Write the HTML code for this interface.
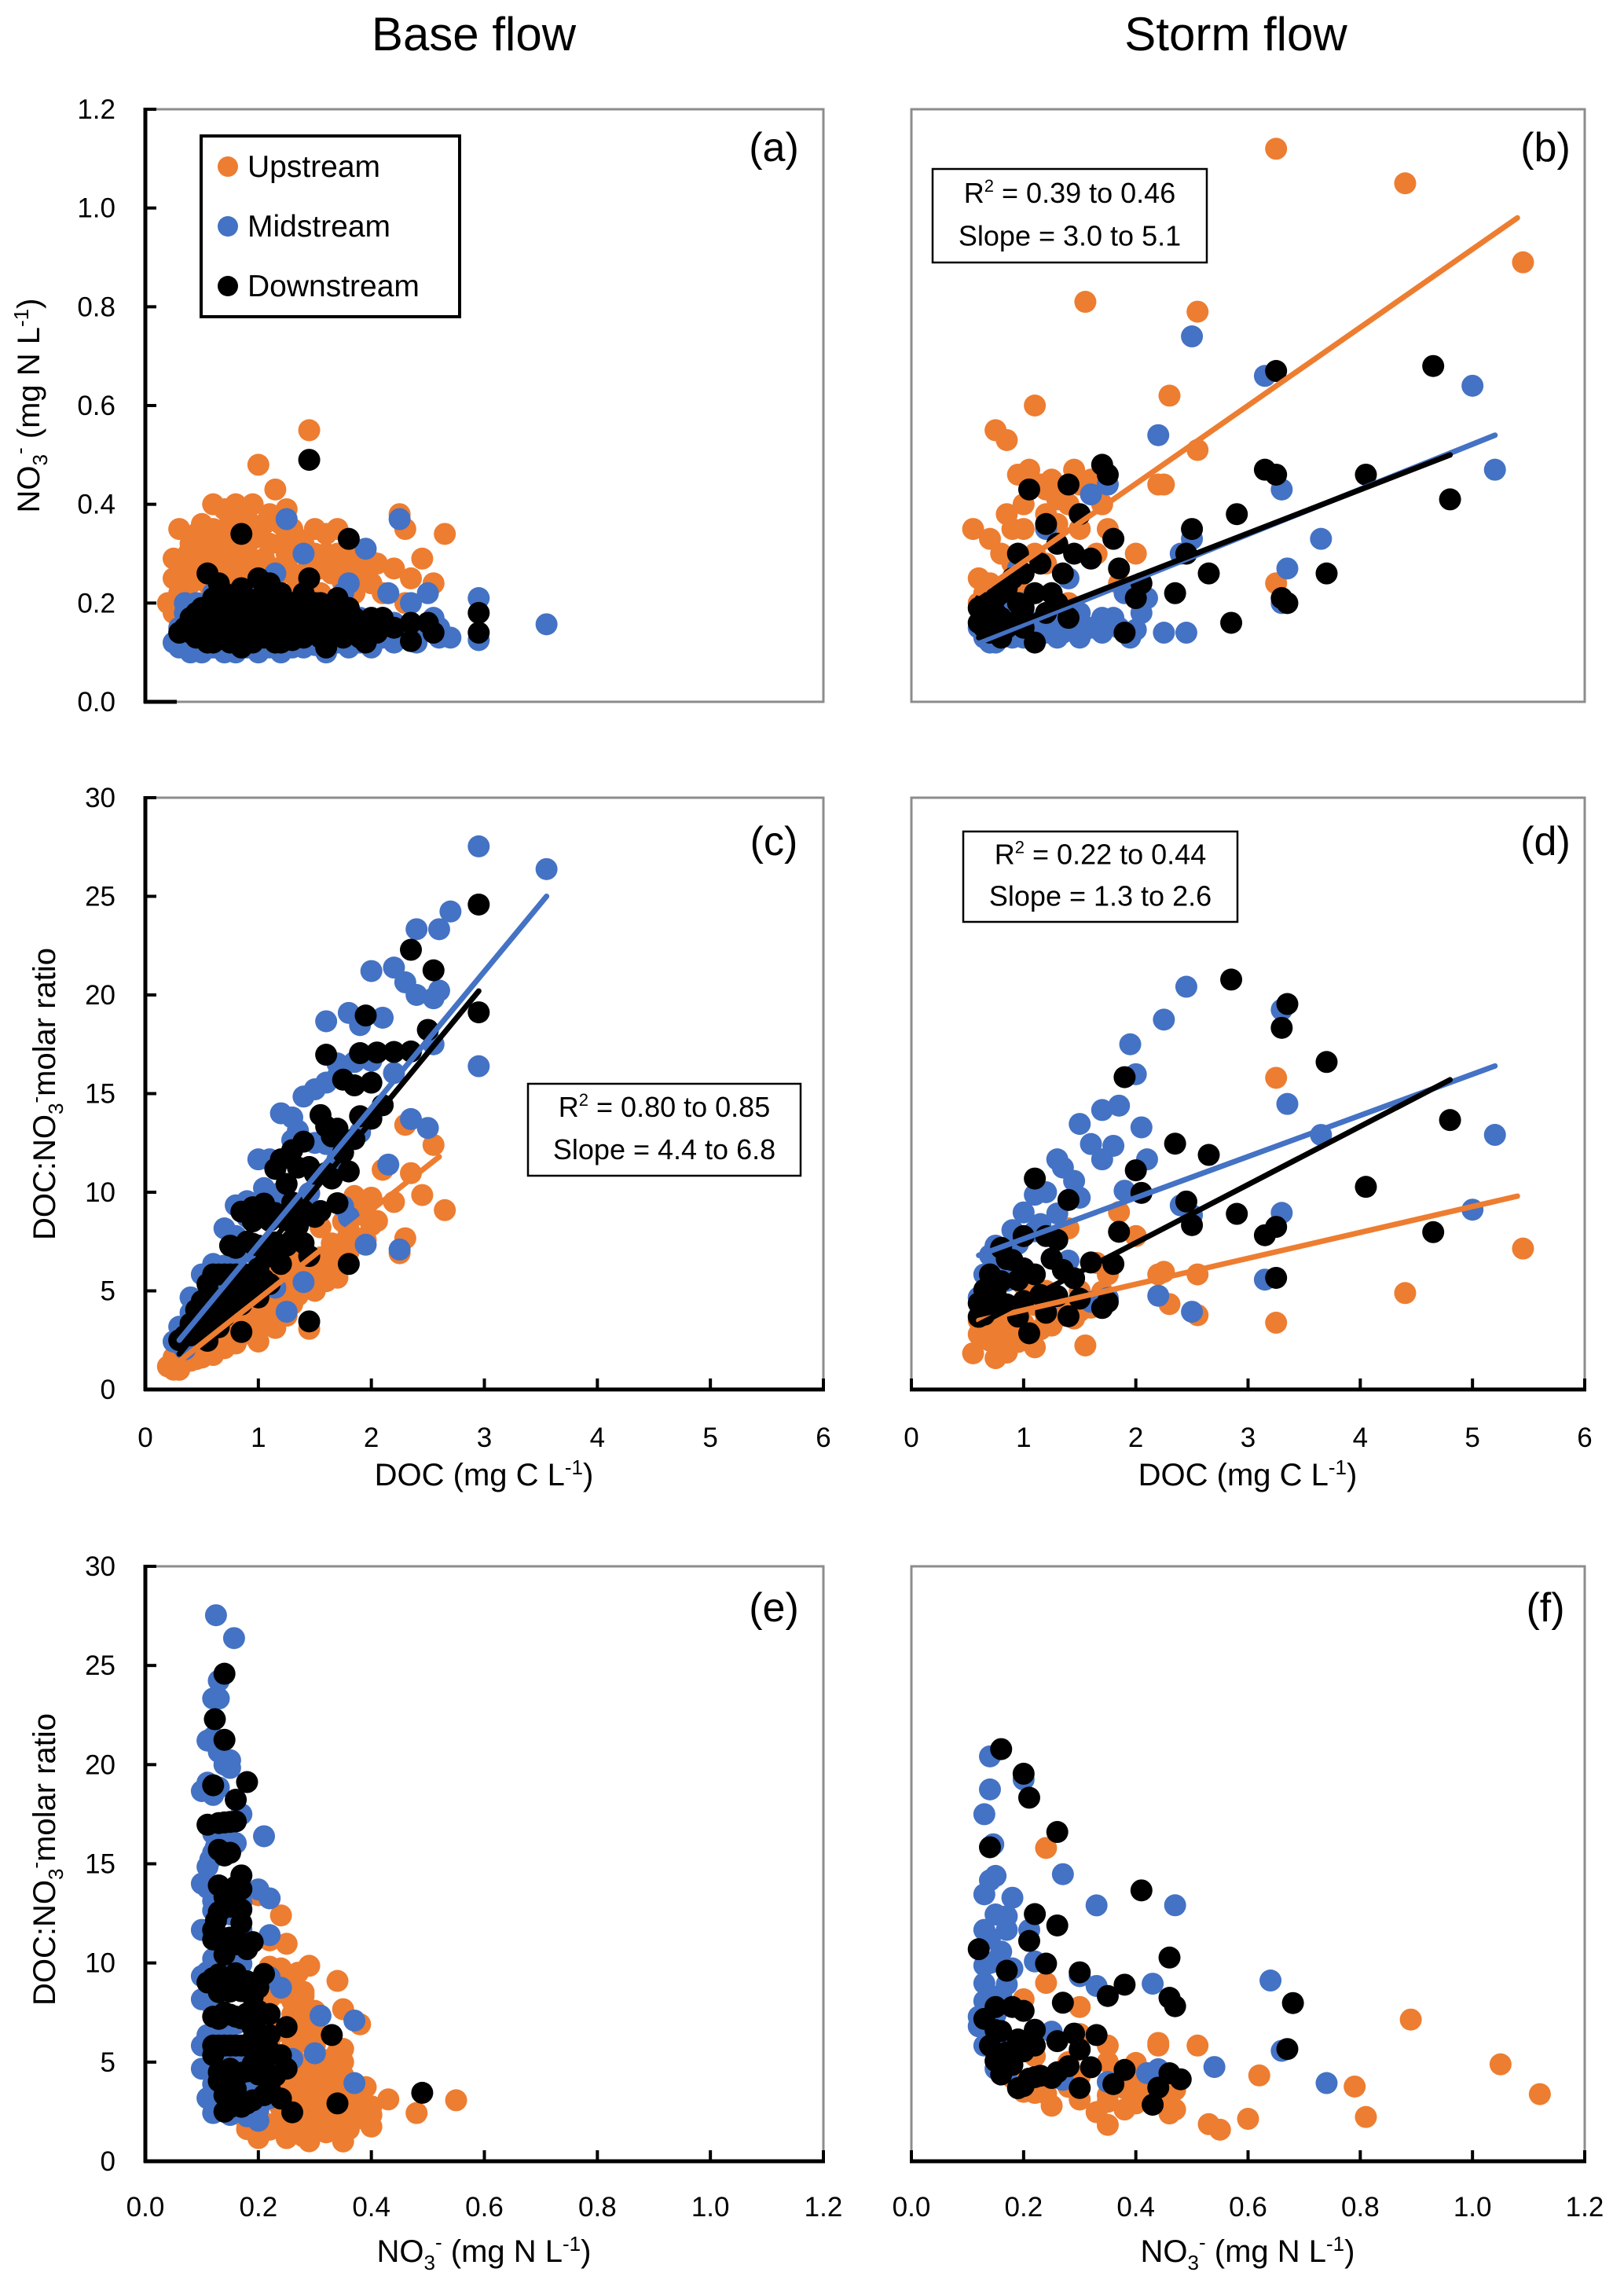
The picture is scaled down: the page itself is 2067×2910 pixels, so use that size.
<!DOCTYPE html>
<html><head><meta charset="utf-8"><style>
html,body{margin:0;padding:0;background:#fff;}
svg{display:block;font-family:"Liberation Sans",Arial,sans-serif;}
</style></head><body>
<svg id="fig" width="2067" height="2910" viewBox="0 0 2067 2910" xmlns="http://www.w3.org/2000/svg">
<text x="603" y="64" font-size="60" text-anchor="middle">Base flow</text>
<text x="1573" y="64" font-size="60" text-anchor="middle">Storm flow</text>
<g id="layer"></g>
</svg>
<script>
// ---------- data ----------
// base flow: [DOC mg C/L, NO3 mg N/L]
const baseUp = [[0.25,0.25],[0.3,0.18],[0.3,0.28],[0.35,0.22],[0.38,0.3],[0.4,0.32],[0.45,0.26],[0.5,0.36],[0.5,0.2],[0.55,0.3],[0.55,0.24],[0.6,0.35],[0.6,0.28],[0.65,0.33],[0.65,0.22],[0.7,0.39],[0.7,0.3],[0.75,0.26],[0.75,0.36],[0.8,0.4],[0.8,0.32],[0.85,0.28],[0.85,0.22],[0.9,0.37],[0.9,0.3],[0.95,0.4],[0.95,0.25],[1.0,0.34],[1.0,0.48],[1.05,0.29],[1.1,0.38],[1.1,0.22],[1.15,0.43],[1.2,0.32],[1.2,0.26],[1.25,0.39],[1.3,0.3],[1.35,0.24],[1.4,0.32],[1.45,0.55],[1.45,0.28],[1.5,0.35],[1.55,0.22],[1.6,0.3],[1.65,0.26],[1.7,0.35],[1.75,0.28],[1.8,0.3],[1.85,0.22],[1.9,0.25],[1.95,0.3],[2.0,0.24],[2.05,0.28],[2.1,0.22],[2.2,0.27],[2.25,0.38],[2.3,0.35],[2.3,0.2],[2.35,0.25],[2.45,0.29],[2.55,0.24],[2.65,0.34],[1.3,0.35],[0.6,0.4],[0.9,0.2],[1.0,0.2],[0.4,0.2],[0.3,0.35],[0.45,0.3],[0.3,0.22],[0.35,0.27],[0.4,0.24],[0.45,0.34],[0.5,0.28],[0.55,0.33],[0.6,0.23],[0.7,0.25],[0.7,0.35],[0.75,0.31],[0.8,0.24],[0.85,0.35],[0.9,0.25],[0.95,0.33],[1.0,0.28],[1.05,0.36],[1.05,0.24],[1.1,0.32],[1.15,0.27],[1.2,0.36],[1.25,0.3],[1.3,0.26],[1.35,0.33],[1.4,0.25],[1.5,0.3],[1.55,0.27],[1.6,0.34],[1.7,0.3],[1.75,0.24],[1.8,0.26],[1.9,0.29],[2.0,0.28],[0.25,0.29],[0.2,0.2],[0.25,0.18],[0.3,0.25]];
const baseMid = [[0.25,0.12],[0.3,0.15],[0.35,0.18],[0.4,0.12],[0.45,0.2],[0.5,0.1],[0.55,0.16],[0.6,0.22],[0.65,0.13],[0.7,0.1],[0.75,0.18],[0.8,0.14],[0.85,0.2],[0.9,0.11],[0.95,0.16],[1.0,0.23],[1.05,0.12],[1.1,0.18],[1.15,0.26],[1.2,0.14],[1.25,0.37],[1.3,0.2],[1.35,0.12],[1.4,0.3],[1.45,0.17],[1.5,0.14],[1.55,0.2],[1.6,0.12],[1.7,0.17],[1.75,0.22],[1.8,0.24],[1.85,0.13],[1.9,0.17],[1.95,0.31],[2.0,0.15],[2.1,0.17],[2.15,0.22],[2.2,0.16],[2.25,0.37],[2.35,0.2],[2.4,0.14],[2.5,0.22],[2.55,0.15],[2.6,0.13],[2.95,0.21],[2.95,0.125],[3.55,0.157],[2.55,0.17],[1.3,0.11],[0.35,0.14],[0.6,0.19],[0.8,0.12],[1.6,0.15],[2.7,0.13],[2.6,0.15],[2.0,0.14],[1.9,0.13],[1.7,0.125],[1.5,0.115],[0.3,0.11],[0.4,0.1],[0.5,0.13],[0.6,0.11],[0.7,0.13],[0.8,0.1],[0.9,0.12],[1.0,0.1],[1.1,0.11],[1.2,0.1],[1.4,0.11],[1.6,0.1],[1.8,0.11],[2.0,0.11],[2.2,0.12],[2.4,0.12],[2.1,0.13],[1.3,0.12],[1.1,0.14],[0.9,0.15],[0.7,0.15],[0.5,0.17],[0.35,0.2],[1.7,0.12],[1.9,0.12],[2.3,0.13]];
const baseDown = [[0.35,0.15],[0.4,0.17],[0.45,0.13],[0.5,0.19],[0.55,0.15],[0.6,0.12],[0.6,0.21],[0.65,0.17],[0.7,0.14],[0.75,0.2],[0.75,0.12],[0.8,0.16],[0.85,0.23],[0.85,0.11],[0.9,0.18],[0.9,0.14],[0.95,0.2],[1.0,0.16],[1.0,0.25],[1.05,0.13],[1.1,0.19],[1.15,0.15],[1.2,0.22],[1.2,0.12],[1.25,0.17],[1.3,0.2],[1.35,0.14],[1.4,0.18],[1.5,0.16],[1.55,0.2],[1.6,0.14],[1.65,0.18],[1.7,0.15],[1.8,0.19],[1.9,0.16],[2.0,0.17],[2.05,0.14],[0.65,0.24],[1.1,0.24],[0.45,0.18],[1.7,0.21],[1.45,0.49],[0.85,0.34],[1.8,0.33],[0.55,0.26],[2.5,0.16],[2.55,0.14],[2.95,0.18],[2.95,0.14],[2.35,0.16],[1.45,0.25],[2.35,0.123],[1.3,0.125],[0.95,0.12],[0.4,0.14],[0.5,0.16],[0.55,0.12],[0.6,0.15],[0.65,0.13],[0.7,0.18],[0.7,0.22],[0.75,0.15],[0.8,0.19],[0.8,0.13],[0.85,0.17],[0.9,0.21],[0.95,0.15],[0.95,0.13],[1.0,0.19],[1.0,0.13],[1.05,0.17],[1.05,0.22],[1.1,0.15],[1.15,0.18],[1.15,0.12],[1.2,0.16],[1.25,0.14],[1.3,0.16],[1.35,0.19],[1.4,0.13],[1.45,0.15],[1.5,0.2],[1.55,0.13],[1.6,0.17],[1.65,0.15],[1.75,0.13],[1.75,0.17],[1.85,0.14],[1.9,0.13],[2.0,0.15],[0.5,0.13],[0.3,0.14],[1.25,0.2],[0.85,0.2],[1.4,0.22],[1.85,0.17],[2.1,0.17],[2.2,0.15],[1.95,0.12],[1.6,0.11]];
// storm flow: [DOC, NO3]
const stormUp = [[0.55,0.35],[0.6,0.25],[0.65,0.22],[0.7,0.33],[0.75,0.55],[0.8,0.3],[0.85,0.53],[0.85,0.38],[0.9,0.28],[0.95,0.46],[1.0,0.35],[1.05,0.47],[1.1,0.6],[1.15,0.44],[1.2,0.38],[1.25,0.45],[1.3,0.36],[1.35,0.42],[1.45,0.47],[1.5,0.35],[1.55,0.81],[1.6,0.45],[1.65,0.3],[1.7,0.4],[1.75,0.35],[1.85,0.24],[2.2,0.44],[2.25,0.44],[2.3,0.62],[2.55,0.79],[2.55,0.51],[3.25,1.12],[3.25,0.24],[4.4,1.05],[5.45,0.89],[1.0,0.22],[0.65,0.18],[1.2,0.28],[1.4,0.2],[2.0,0.3],[0.6,0.2],[0.7,0.24],[0.8,0.23],[0.9,0.35],[1.0,0.4],[1.1,0.3],[1.2,0.43],[1.3,0.41],[1.4,0.4],[1.5,0.44]];
const stormMid = [[2.5,0.74],[3.15,0.66],[2.2,0.54],[3.3,0.43],[2.5,0.33],[3.35,0.27],[3.3,0.2],[3.65,0.33],[5.0,0.64],[5.2,0.47],[2.4,0.3],[1.6,0.42],[1.75,0.44],[0.95,0.27],[1.2,0.35],[0.6,0.15],[0.65,0.13],[0.7,0.17],[0.75,0.12],[0.8,0.14],[0.85,0.18],[0.9,0.13],[0.95,0.15],[1.0,0.2],[1.1,0.13],[1.15,0.16],[1.2,0.14],[1.3,0.17],[1.35,0.14],[1.45,0.16],[1.5,0.13],[1.6,0.15],[1.7,0.14],[1.8,0.17],[1.9,0.22],[2.0,0.146],[2.1,0.21],[2.25,0.14],[1.4,0.25],[1.25,0.22],[2.45,0.14],[0.65,0.17],[0.7,0.12],[0.8,0.16],[0.9,0.18],[1.0,0.13],[1.1,0.16],[1.3,0.13],[1.5,0.18],[1.7,0.17],[1.95,0.13],[2.05,0.18],[1.85,0.15]];
const stormDown = [[0.6,0.16],[0.65,0.2],[0.7,0.14],[0.75,0.18],[0.8,0.22],[0.85,0.15],[0.9,0.25],[0.95,0.3],[1.0,0.19],[1.05,0.43],[1.1,0.12],[1.15,0.28],[1.2,0.36],[1.25,0.22],[1.3,0.32],[1.35,0.26],[1.4,0.44],[1.45,0.3],[1.5,0.38],[1.6,0.29],[1.7,0.48],[1.75,0.46],[1.8,0.33],[1.85,0.27],[1.9,0.14],[2.0,0.21],[2.05,0.24],[2.35,0.22],[2.45,0.3],[2.5,0.35],[2.65,0.26],[2.9,0.38],[2.85,0.16],[3.15,0.47],[3.25,0.46],[3.3,0.21],[3.35,0.2],[3.25,0.67],[3.7,0.26],[4.05,0.46],[4.65,0.68],[4.8,0.41],[1.0,0.26],[0.8,0.17],[0.6,0.19],[0.7,0.17],[0.75,0.21],[0.8,0.13],[0.9,0.16],[0.95,0.2],[1.0,0.15],[1.1,0.22],[1.2,0.18],[1.3,0.2],[1.4,0.17],[0.65,0.15],[0.85,0.23]];
// regression lines: [x start, y start, x end, y end]
const fitB = {up:[0.6,0.22,5.4,0.98], mid:[0.6,0.12,5.2,0.54], down:[0.6,0.13,4.8,0.50]};
const fitC = {up:[0.25,1.2,2.6,11.8], mid:[0.3,2.5,3.55,25], down:[0.3,1.8,2.95,20.2]};
const fitD = {up:[0.6,3.5,5.4,9.8], mid:[0.6,6.8,5.2,16.4], down:[0.6,3.3,4.8,15.7]};
const docTicks = [0,1,2,3,4,5,6];
const no3Ticks = ["0.0","0.2","0.4","0.6","0.8","1.0","1.2"];
const ratioTicks = [0,5,10,15,20,25,30];

// ---------- drawing ----------
const NS="http://www.w3.org/2000/svg";
const layer=document.getElementById('layer');
const COL={up:'#ED7D31',mid:'#4472C4',down:'#000000'};
function el(tag,attrs,parent){const e=document.createElementNS(NS,tag);for(const k in attrs)e.setAttribute(k,attrs[k]);(parent||layer).appendChild(e);return e;}
const ratio = p => p[0]/p[1]*14/12;
const cols={base:{x0:185,x1:1048},storm:{x0:1160,x1:2017}};
const rows=[{y0:139,y1:893},{y0:1015,y1:1768},{y0:1993,y1:2750}];

function panel(name,col,row,xmax,ymax){
  const c=cols[col],r=rows[row];
  const sx=v=>c.x0+(v/xmax)*(c.x1-c.x0);
  const sy=v=>r.y1-(v/ymax)*(r.y1-r.y0);
  const g=el('g',{});
  
  
  const fr=el('rect',{x:c.x0,y:r.y0,width:c.x1-c.x0,height:r.y1-r.y0,fill:'none',stroke:'#8c8c8c','stroke-width':3},g);
  
  
  return {g,sx,sy,c,r};
}
function dots(P,arr,color,fx,fy,name){
  arr.forEach(p=>{
    const d=el('circle',{cx:P.sx(fx(p)),cy:P.sy(fy(p)),r:14,fill:color},P.g);
    
    
  });
}
function fit(P,f,color,name){
  const l=el('line',{x1:P.sx(f[0]),y1:P.sy(f[1]),x2:P.sx(f[2]),y2:P.sy(f[3]),stroke:color,'stroke-width':7,'stroke-linecap':'round'},P.g);
  
  
}
function yAxis(P,ticks,vals){
  const a=el('line',{x1:P.c.x0,y1:P.r.y0-2,x2:P.c.x0,y2:P.r.y1+2,stroke:'#000','stroke-width':5},P.g);
  
  
  ticks.forEach((t,i)=>{
    const y=P.sy(vals[i]);
    el('line',{x1:P.c.x0,y1:y,x2:P.c.x0+14,y2:y,stroke:'#000','stroke-width':4},P.g);
    const tx=el('text',{x:P.c.x0-38,y:y+12,'font-size':35,'text-anchor':'end'},P.g);
    tx.textContent=t;
    
    
  });
}
function xAxis(P,ticks,vals,labelY){
  const a=el('line',{x1:P.c.x0-2,y1:P.r.y1,x2:P.c.x1+2,y2:P.r.y1,stroke:'#000','stroke-width':5},P.g);
  
  
  ticks.forEach((t,i)=>{
    const x=P.sx(vals[i]);
    el('line',{x1:x,y1:P.r.y1,x2:x,y2:P.r.y1-14,stroke:'#000','stroke-width':4},P.g);
    const tx=el('text',{x:x,y:labelY,'font-size':35,'text-anchor':'middle'},P.g);
    tx.textContent=t;
    
    
  });
}
function label(P,txt,x,y){
  const t=el('text',{x:x,y:y,'font-size':52,'text-anchor':'middle'},P.g);
  t.textContent=txt;
  
  
}
function statBox(P,x,y,w,h,r2,slope){
  const b=el('rect',{x:x,y:y,width:w,height:h,fill:'#fff',stroke:'#000','stroke-width':2.5},P.g);
  
  
  const t1=el('text',{x:x+w/2,y:y+h*0.36,'font-size':36,'text-anchor':'middle'},P.g);
  t1.innerHTML='R<tspan font-size="22" dy="-14">2</tspan><tspan dy="14"> = '+r2+'</tspan>';
  
  
  const t2=el('text',{x:x+w/2,y:y+h*0.82,'font-size':36,'text-anchor':'middle'},P.g);
  t2.textContent='Slope = '+slope;
  
  
}
const docX=p=>p[0], no3Y=p=>p[1], no3X=p=>p[1];
const nv=[0,0.2,0.4,0.6,0.8,1.0,1.2];

// (a)
let P=panel('panel-a','base',0,6,1.2);
dots(P,baseUp,COL.up,docX,no3Y,'upstream-point');
dots(P,baseMid,COL.mid,docX,no3Y,'midstream-point');
dots(P,baseDown,COL.down,docX,no3Y,'downstream-point');
yAxis(P,no3Ticks,nv);
el('line',{x1:P.c.x0-2,y1:P.r.y1,x2:P.c.x0+40,y2:P.r.y1,stroke:'#000','stroke-width':5},P.g);
label(P,'(a)',985,205);
const lg=el('g',{});


el('rect',{x:256,y:173,width:329,height:230,fill:'#fff',stroke:'#000','stroke-width':4},lg);
[['Upstream',COL.up,212],['Midstream',COL.mid,288],['Downstream',COL.down,364]].forEach(e=>{
  const c=el('circle',{cx:290,cy:e[2],r:13,fill:e[1]},lg);
  
  
  const t=el('text',{x:315,y:e[2]+13,'font-size':39},lg);
  t.textContent=e[0];
  
  
});
const yt1=el('text',{transform:'translate(50,516) rotate(-90)','font-size':40,'text-anchor':'middle'});
yt1.innerHTML='NO<tspan font-size="26" dy="10">3</tspan><tspan font-size="26" dy="-26">-</tspan><tspan dy="16"> (mg N L</tspan><tspan font-size="26" dy="-14">-1</tspan><tspan dy="14">)</tspan>';



// (b)
P=panel('panel-b','storm',0,6,1.2);
dots(P,stormUp,COL.up,docX,no3Y,'upstream-point');
dots(P,stormMid,COL.mid,docX,no3Y,'midstream-point');
dots(P,stormDown,COL.down,docX,no3Y,'downstream-point');
fit(P,fitB.up,COL.up,'upstream-fit-line');
fit(P,fitB.mid,COL.mid,'midstream-fit-line');
fit(P,fitB.down,COL.down,'downstream-fit-line');
statBox(P,1187,215,349,119,'0.39 to 0.46','3.0 to 5.1');
label(P,'(b)',1967,205);

// (c)
P=panel('panel-c','base',1,6,30);
dots(P,baseUp,COL.up,docX,ratio,'upstream-point');
dots(P,baseMid,COL.mid,docX,ratio,'midstream-point');
dots(P,baseDown,COL.down,docX,ratio,'downstream-point');
fit(P,fitC.up,COL.up,'upstream-fit-line');
fit(P,fitC.mid,COL.mid,'midstream-fit-line');
fit(P,fitC.down,COL.down,'downstream-fit-line');
yAxis(P,ratioTicks.map(String),ratioTicks);
xAxis(P,docTicks.map(String),docTicks,1841);
statBox(P,672,1379,347,117,'0.80 to 0.85','4.4 to 6.8');
label(P,'(c)',985,1088);

// (d)
P=panel('panel-d','storm',1,6,30);
dots(P,stormUp,COL.up,docX,ratio,'upstream-point');
dots(P,stormMid,COL.mid,docX,ratio,'midstream-point');
dots(P,stormDown,COL.down,docX,ratio,'downstream-point');
fit(P,fitD.up,COL.up,'upstream-fit-line');
fit(P,fitD.mid,COL.mid,'midstream-fit-line');
fit(P,fitD.down,COL.down,'downstream-fit-line');
xAxis(P,docTicks.map(String),docTicks,1841);
statBox(P,1226,1058,349,115,'0.22 to 0.44','1.3 to 2.6');
label(P,'(d)',1967,1088);

// (e)
P=panel('panel-e','base',2,1.2,30);
dots(P,baseUp,COL.up,no3X,ratio,'upstream-point');
dots(P,baseMid,COL.mid,no3X,ratio,'midstream-point');
dots(P,baseDown,COL.down,no3X,ratio,'downstream-point');
yAxis(P,ratioTicks.map(String),ratioTicks);
xAxis(P,no3Ticks,nv,2820);
label(P,'(e)',985,2063);

// (f)
P=panel('panel-f','storm',2,1.2,30);
dots(P,stormUp,COL.up,no3X,ratio,'upstream-point');
dots(P,stormMid,COL.mid,no3X,ratio,'midstream-point');
dots(P,stormDown,COL.down,no3X,ratio,'downstream-point');
xAxis(P,no3Ticks,nv,2820);
label(P,'(f)',1967,2063);

// axis titles
[[616,'x-axis-title-doc-base'],[1588,'x-axis-title-doc-storm']].forEach(a=>{
  const t=el('text',{x:a[0],y:1890,'font-size':40,'text-anchor':'middle'});
  t.innerHTML='DOC (mg C L<tspan font-size="26" dy="-14">-1</tspan><tspan dy="14">)</tspan>';
  
  
});
[[616,'x-axis-title-nitrate-base'],[1588,'x-axis-title-nitrate-storm']].forEach(a=>{
  const t=el('text',{x:a[0],y:2878,'font-size':40,'text-anchor':'middle'});
  t.innerHTML='NO<tspan font-size="26" dy="10">3</tspan><tspan font-size="26" dy="-26">-</tspan><tspan dy="16"> (mg N L</tspan><tspan font-size="26" dy="-14">-1</tspan><tspan dy="14">)</tspan>';
  
  
});
[[1392,'y-axis-title-ratio-c'],[2366,'y-axis-title-ratio-e']].forEach(a=>{
  const t=el('text',{transform:'translate(70,'+a[0]+') rotate(-90)','font-size':40,'text-anchor':'middle'});
  t.innerHTML='DOC:NO<tspan font-size="26" dy="10">3</tspan><tspan font-size="26" dy="-26">-</tspan><tspan dy="16">molar ratio</tspan>';
  
  
});
</script>
</body></html>
